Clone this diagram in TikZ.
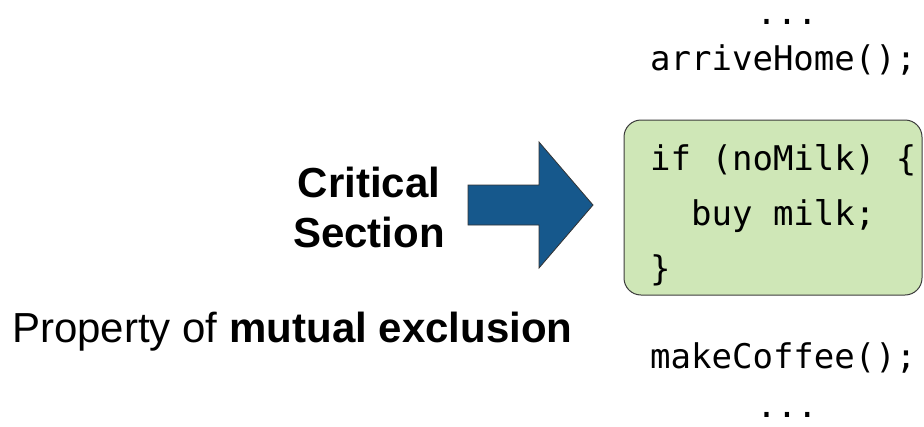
\documentclass[tikz,border=0pt]{standalone}
\usepackage{fontspec}
\setmainfont{Liberation Sans}
\newfontfamily\codefont{DejaVu Sans Mono}
\definecolor{boxgreen}{RGB}{207,231,183}
\definecolor{boxline}{RGB}{60,60,60}
\definecolor{arrowblue}{RGB}{22,88,140}
\tikzset{
  sanstext/.style={inner sep=0pt, font=\fontsize{42}{50}\selectfont},
  codetext/.style={inner sep=0pt, font=\codefont\fontsize{34}{42}\selectfont},
  codebox/.style={draw=boxline, line width=1pt, fill=boxgreen, rounded corners=17pt, inner sep=0pt},
  bigarrow/.style={draw=black!80, line width=0.8pt, fill=arrowblue}
}
\begin{document}
\begin{tikzpicture}[x=1pt,y=-1pt]
\useasboundingbox (0,0) rectangle (924,426);
% code box
\node[codebox, minimum width=298pt, minimum height=175pt] (box) at (773,207.5) {};
% arrow
\draw[bigarrow] (468,185) -- (539,185) -- (539,142) -- (593,205) -- (539,268) -- (539,225) -- (468,225) -- cycle;
% left texts
\node[sanstext, anchor=base] (crit) at (369,197) {\bfseries Critical};
\node[sanstext, anchor=base] (sect) at (369,247) {\bfseries Section};
\node[sanstext, anchor=base west] (prop) at (12,342) {Property of \textbf{mutual exclusion}};
% code lines
\node[codetext, anchor=base] (dots1) at (787,24) {...};
\node[codetext, anchor=base west] (arrive) at (650,70) {arriveHome();};
\node[codetext, anchor=base west] (l1) at (650,170) {if (noMilk) \{};
\node[codetext, anchor=base west] (l2) at (650,225) {\ \ buy milk;};
\node[codetext, anchor=base west] (l3) at (650,280) {\}};
\node[codetext, anchor=base west] (coffee) at (650,368) {makeCoffee();};
\node[codetext, anchor=base] (dots2) at (787,417) {...};
\end{tikzpicture}
\end{document}
